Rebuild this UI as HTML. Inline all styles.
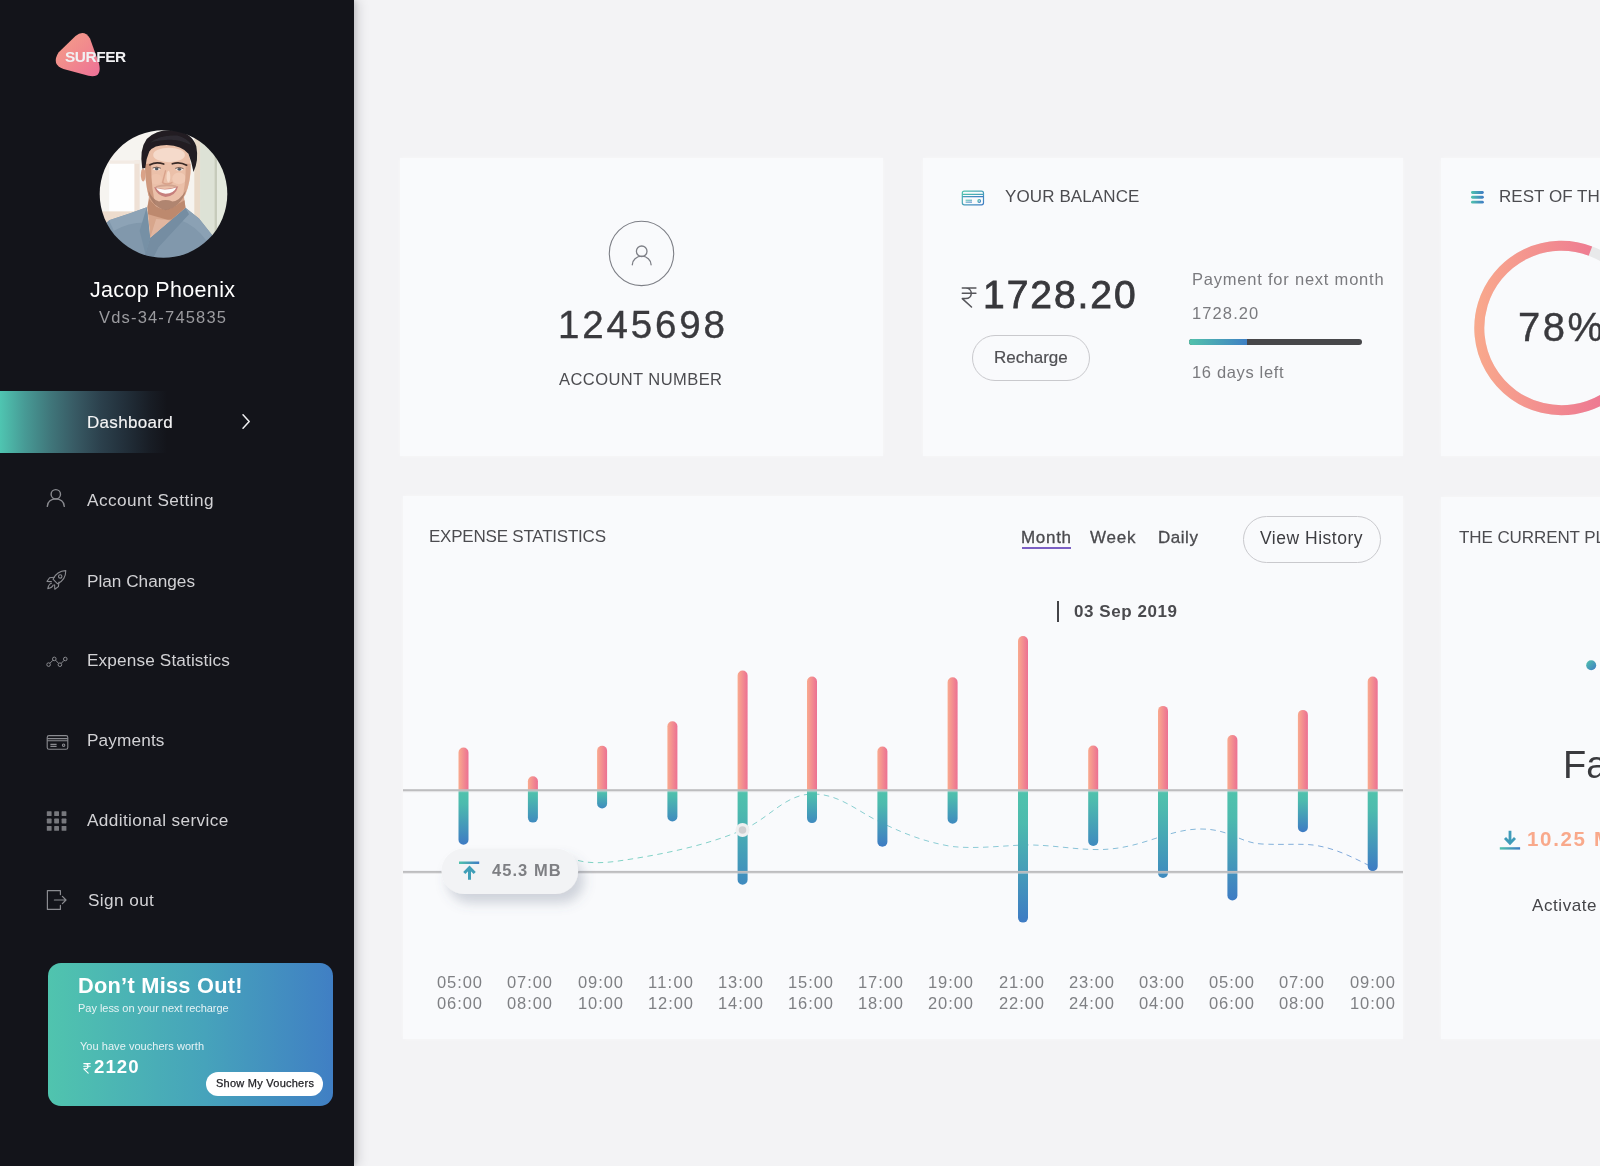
<!DOCTYPE html><html><head><meta charset="utf-8"><title>Surfer Dashboard</title><style>
*{box-sizing:border-box}
html,body{margin:0;padding:0}
body{width:1600px;height:1166px;overflow:hidden;background:#f3f3f5;font-family:"Liberation Sans", sans-serif;position:relative}
.t{position:absolute;white-space:pre;line-height:1;margin:0;will-change:transform}
.abs{position:absolute}
.sidebar{position:absolute;left:0;top:0;width:354px;height:1166px;background:#13141a;box-shadow:5px 0 10px rgba(20,24,30,.13), 2px 0 4px rgba(20,24,30,.10)}
.active{position:absolute;left:0;top:391px;width:167px;height:62px;background:linear-gradient(90deg,#4fc5b1 0px,#479a95 25px,#40777b 50px,#385a64 75px,#2c414d 100px,#222f3a 125px,#181d25 150px,#13141a 167px)}
.promo{position:absolute;left:48px;top:963px;width:285px;height:142.5px;border-radius:13px;background:linear-gradient(90deg,#50c4ae 0%,#46a3bb 55%,#407fc4 100%)}
.pbtn{position:absolute;left:206px;top:1072px;width:117px;height:23.5px;border-radius:12px;background:#fff}
.card{position:absolute;background:#f9fafc;box-shadow:0 0 4px rgba(255,255,255,.4)}
.pill{position:absolute;border:1px solid #c9c9cd;border-radius:24px;background:#f9fafc}
</style></head><body>
<div class="card" style="left:400px;top:158px;width:483px;height:298px"></div>
<div class="card" style="left:923px;top:158px;width:480px;height:298px"></div>
<div class="card" style="left:1441px;top:158px;width:200px;height:298px"></div>
<div class="card" style="left:403px;top:496px;width:1000px;height:543px"></div>
<div class="card" style="left:1441px;top:497px;width:200px;height:542px"></div>
<div class="pill" style="left:972px;top:334.5px;width:118px;height:46px"></div>
<div class="pill" style="left:1242.5px;top:516px;width:138px;height:46.5px"></div>
<div class="abs" style="left:1188.7px;top:339px;width:173.6px;height:6px;border-radius:3px;background:#47474a"></div>
<div class="abs" style="left:1188.7px;top:339px;width:58.5px;height:6px;border-radius:3px 0 0 3px;background:linear-gradient(90deg,#52c2ab,#3f80c4)"></div>
<div class="abs" style="left:1021.5px;top:546.8px;width:49px;height:2px;background:#7b5fc4"></div>
<div class="abs" style="left:1056.5px;top:601px;width:2.5px;height:21px;background:#444448"></div>
<svg class="abs" style="left:0;top:0" width="1600" height="1166" viewBox="0 0 1600 1166">
<defs>
<linearGradient id="gp" x1="0" y1="0" x2="1" y2="0"><stop offset="0" stop-color="#f9aa8e"/><stop offset="1" stop-color="#ec7092"/></linearGradient>
<linearGradient id="gb" x1="0" y1="0" x2="0" y2="1"><stop offset="0" stop-color="#50c3ac"/><stop offset="0.25" stop-color="#4dbbae"/><stop offset="1" stop-color="#3e7bc4"/></linearGradient>
<linearGradient id="gb2" x1="0" y1="0" x2="0" y2="1"><stop offset="0" stop-color="#50c3ac"/><stop offset="0.2" stop-color="#4dbbae"/><stop offset="1" stop-color="#3f8abf"/></linearGradient>
<linearGradient id="gh" x1="0" y1="0" x2="1" y2="0"><stop offset="0" stop-color="#50c3ac"/><stop offset="1" stop-color="#3e7bc4"/></linearGradient>
<linearGradient id="gd" x1="0" y1="0" x2="1" y2="1"><stop offset="0" stop-color="#50c3ac"/><stop offset="1" stop-color="#3e7bc4"/></linearGradient>
<linearGradient id="gcurve" gradientUnits="userSpaceOnUse" x1="578" y1="0" x2="1372" y2="0"><stop offset="0" stop-color="#7fd3c3"/><stop offset="0.5" stop-color="#8ccbd6"/><stop offset="1" stop-color="#7fa6db"/></linearGradient>
<linearGradient id="gring" gradientUnits="userSpaceOnUse" x1="1473" y1="0" x2="1650" y2="0"><stop offset="0" stop-color="#f9aa8c"/><stop offset="0.7" stop-color="#ee7a92"/><stop offset="1" stop-color="#ec6f93"/></linearGradient>
<filter id="tsh" x="-30%" y="-50%" width="170%" height="250%"><feDropShadow dx="6" dy="9" stdDeviation="6" flood-color="#56607c" flood-opacity="0.26"/></filter>
</defs>
<circle cx="641.5" cy="253.4" r="32.2" fill="none" stroke="#7d7f86" stroke-width="1.1"/>
<g fill="none" stroke="#7d7f86" stroke-width="1.3" stroke-linecap="round"><circle cx="641.7" cy="251.3" r="5.3"/><path d="M632.3 264.8 a9.4 8.6 0 0 1 18.8 0"/></g>
<g fill="none" stroke="url(#gd)" stroke-width="1.2"><rect x="962.3" y="191.2" width="21.2" height="13.6" rx="2"/><path d="M962.3 194.3h21.2M962.3 196.6h21.2"/><path d="M965.6 200.2h6.4M965.6 202.1h6.4" stroke-width="1"/><circle cx="979.2" cy="201" r="1.3"/></g>
<g fill="none" stroke="#55555a" stroke-width="1.5" stroke-linecap="round" stroke-linejoin="round"><path d="M962.3 288h13.6M962.3 293.3h13.6M965.6 288c7.6 0 7.6 10.6 0 10.6h-3.3l9.2 8.4"/></g>
<g fill="url(#gh)"><rect x="1471" y="191" width="12.8" height="2.9" rx="1.45"/><rect x="1471" y="195.8" width="12.8" height="2.9" rx="1.45"/><rect x="1471" y="200.7" width="12.8" height="2.9" rx="1.45"/></g>
<circle cx="1561.5" cy="328" r="82.2" fill="none" stroke="#e8e9ea" stroke-width="10"/>
<path d="M1590.42 251.06 A82.2 82.2 0 1 0 1642.50 341.99" fill="none" stroke="url(#gring)" stroke-width="10"/>
<path d="M578 860.5 C590 863.5 602 863 615 861.5 C660 855 705 846 742.5 830 C770 818 785 794 813 794 C840 794 858 812 882 823 C905 834 925 842 952 846.5 C975 849 1000 846 1023 845 C1050 844.5 1070 849 1093 849.5 C1140 851 1165 829 1201 829 C1230 829 1240 843 1262 844 C1285 845 1300 843.5 1313 845 C1335 848 1352 857 1370 866" fill="none" stroke="url(#gcurve)" stroke-width="1" stroke-dasharray="5.5 4.5"/>
<path d="M458.5 790.2 V752.6 a5 5 0 0 1 10 0 V790.2 Z" fill="url(#gp)"/>
<path d="M458.5 790.2 V839.7 a5 5 0 0 0 10 0 V790.2 Z" fill="url(#gb)"/>
<path d="M527.9 790.2 V781.3 a5 5 0 0 1 10 0 V790.2 Z" fill="url(#gp)"/>
<path d="M527.9 790.2 V817.6 a5 5 0 0 0 10 0 V790.2 Z" fill="url(#gb2)"/>
<path d="M597.1 790.2 V750.8 a5 5 0 0 1 10 0 V790.2 Z" fill="url(#gp)"/>
<path d="M597.1 790.2 V803.5 a5 5 0 0 0 10 0 V790.2 Z" fill="url(#gb2)"/>
<path d="M667.4 790.2 V726.3 a5 5 0 0 1 10 0 V790.2 Z" fill="url(#gp)"/>
<path d="M667.4 790.2 V816.5 a5 5 0 0 0 10 0 V790.2 Z" fill="url(#gb2)"/>
<path d="M737.6 790.2 V675.5 a5 5 0 0 1 10 0 V790.2 Z" fill="url(#gp)"/>
<path d="M737.6 790.2 V879.8 a5 5 0 0 0 10 0 V790.2 Z" fill="url(#gb2)"/>
<path d="M807.0 790.2 V681.6 a5 5 0 0 1 10 0 V790.2 Z" fill="url(#gp)"/>
<path d="M807.0 790.2 V818.1 a5 5 0 0 0 10 0 V790.2 Z" fill="url(#gb2)"/>
<path d="M877.4 790.2 V751.6 a5 5 0 0 1 10 0 V790.2 Z" fill="url(#gp)"/>
<path d="M877.4 790.2 V841.8 a5 5 0 0 0 10 0 V790.2 Z" fill="url(#gb)"/>
<path d="M947.6 790.2 V682.2 a5 5 0 0 1 10 0 V790.2 Z" fill="url(#gp)"/>
<path d="M947.6 790.2 V818.7 a5 5 0 0 0 10 0 V790.2 Z" fill="url(#gb2)"/>
<path d="M1018.0 790.2 V641.0 a5 5 0 0 1 10 0 V790.2 Z" fill="url(#gp)"/>
<path d="M1018.0 790.2 V917.6 a5 5 0 0 0 10 0 V790.2 Z" fill="url(#gb)"/>
<path d="M1088.2 790.2 V750.5 a5 5 0 0 1 10 0 V790.2 Z" fill="url(#gp)"/>
<path d="M1088.2 790.2 V841.0 a5 5 0 0 0 10 0 V790.2 Z" fill="url(#gb2)"/>
<path d="M1158.0 790.2 V710.9 a5 5 0 0 1 10 0 V790.2 Z" fill="url(#gp)"/>
<path d="M1158.0 790.2 V872.9 a5 5 0 0 0 10 0 V790.2 Z" fill="url(#gb2)"/>
<path d="M1227.4 790.2 V740.1 a5 5 0 0 1 10 0 V790.2 Z" fill="url(#gp)"/>
<path d="M1227.4 790.2 V895.5 a5 5 0 0 0 10 0 V790.2 Z" fill="url(#gb)"/>
<path d="M1297.9 790.2 V714.9 a5 5 0 0 1 10 0 V790.2 Z" fill="url(#gp)"/>
<path d="M1297.9 790.2 V827.2 a5 5 0 0 0 10 0 V790.2 Z" fill="url(#gb)"/>
<path d="M1367.7 790.2 V681.6 a5 5 0 0 1 10 0 V790.2 Z" fill="url(#gp)"/>
<path d="M1367.7 790.2 V866.3 a5 5 0 0 0 10 0 V790.2 Z" fill="url(#gb)"/>
<rect x="403" y="789.2" width="1000" height="2" fill="#bdbdbf"/><rect x="403" y="791.2" width="1000" height="1" fill="#d9d9db" opacity=".55"/>
<rect x="403" y="870.9" width="1000" height="2" fill="#bdbdbf"/><rect x="403" y="872.9" width="1000" height="1" fill="#d9d9db" opacity=".55"/>
<circle cx="742.5" cy="830" r="7" fill="#efeff0"/><circle cx="742.5" cy="830" r="3.8" fill="#cfcfd1"/>
<rect x="441.5" y="848.6" width="136.6" height="45.3" rx="22.6" fill="#f2f3f5" filter="url(#tsh)"/>
<rect x="459" y="861.5" width="20.2" height="2.5" fill="url(#gh)"/><g fill="none" stroke="#409fb8" stroke-width="3"><path d="M469.5 879.8V867.5M464.3 873l5.2-5.4 5.2 5.4" stroke-linejoin="miter"/></g>
<circle cx="1591.2" cy="665.3" r="5" fill="url(#gd)"/>
<rect x="1499.8" y="847.2" width="20.3" height="2.4" fill="url(#gh)"/><g fill="none" stroke="#3f9bb9" stroke-width="2.8"><path d="M1510 830.8v12.2M1505 838l5 5.2 5-5.2"/></g>
</svg>
<div class="t" style="left:558.40px;top:305.55px;font-size:38.5px;color:#3a3a3e;letter-spacing:2.852px;-webkit-text-stroke:0.4px #3a3a3e;">1245698</div>
<div class="t" style="left:559.20px;top:370.65px;font-size:16.5px;color:#4c4c50;letter-spacing:0.433px;">ACCOUNT NUMBER</div>
<div class="t" style="left:1005.00px;top:188.30px;font-size:17px;color:#4c4c50;letter-spacing:0.109px;">YOUR BALANCE</div>
<div class="t" style="left:982.80px;top:275.00px;font-size:39px;color:#38383c;letter-spacing:1.936px;-webkit-text-stroke:0.8px #38383c;">1728.20</div>
<div class="t" style="left:994.40px;top:348.90px;font-size:17px;color:#505054;letter-spacing:0.012px;-webkit-text-stroke:0.2px #505054;">Recharge</div>
<div class="t" style="left:1191.60px;top:271.15px;font-size:16.5px;color:#7a7a7e;letter-spacing:0.782px;">Payment for next month</div>
<div class="t" style="left:1191.80px;top:304.85px;font-size:16.5px;color:#7a7a7e;letter-spacing:1.107px;">1728.20</div>
<div class="t" style="left:1191.80px;top:364.35px;font-size:16.5px;color:#7a7a7e;letter-spacing:0.655px;">16 days left</div>
<div class="t" style="left:1499.40px;top:188.30px;font-size:17px;color:#4c4c50;letter-spacing:0.039px;">REST OF THE TRAFFIC</div>
<div class="t" style="left:1518.20px;top:307.20px;font-size:40px;color:#3a3a3e;letter-spacing:2.500px;-webkit-text-stroke:0.4px #3a3a3e;">78%</div>
<div class="t" style="left:428.50px;top:528.30px;font-size:17px;color:#4c4c50;letter-spacing:-0.221px;">EXPENSE STATISTICS</div>
<div class="t" style="left:1021.30px;top:529.20px;font-size:17px;color:#4a4a4e;letter-spacing:0.688px;-webkit-text-stroke:0.3px #4a4a4e;">Month</div>
<div class="t" style="left:1089.50px;top:529.20px;font-size:17px;color:#4a4a4e;letter-spacing:0.748px;-webkit-text-stroke:0.3px #4a4a4e;">Week</div>
<div class="t" style="left:1158.20px;top:529.20px;font-size:17px;color:#4a4a4e;letter-spacing:0.526px;-webkit-text-stroke:0.3px #4a4a4e;">Daily</div>
<div class="t" style="left:1259.70px;top:530.45px;font-size:17.5px;color:#3d3d41;letter-spacing:0.515px;">View History</div>
<div class="t" style="left:1074.30px;top:602.90px;font-size:17px;color:#4a4a4e;font-weight:700;letter-spacing:0.564px;">03 Sep 2019</div>
<div class="t" style="left:492.30px;top:861.75px;font-size:16.5px;color:#7e7f83;font-weight:700;letter-spacing:1.040px;">45.3 MB</div>
<div class="t" style="left:1458.60px;top:529.30px;font-size:17px;color:#4c4c50;letter-spacing:-0.084px;">THE CURRENT PLAN</div>
<div class="t" style="left:1563.00px;top:745.80px;font-size:38px;color:#3a3a3e;">Fast</div>
<div class="t" style="left:1527.40px;top:828.95px;font-size:20.5px;color:#f9a98b;font-weight:700;letter-spacing:1.672px;">10.25 MB/s</div>
<div class="t" style="left:1531.90px;top:896.90px;font-size:17px;color:#444448;letter-spacing:0.574px;">Activate now</div>
<div class="t" style="left:437.20px;top:974.15px;font-size:16.5px;color:#7f8084;letter-spacing:0.926px;">05:00</div>
<div class="t" style="left:437.20px;top:995.15px;font-size:16.5px;color:#7f8084;letter-spacing:0.926px;">06:00</div>
<div class="t" style="left:507.38px;top:974.15px;font-size:16.5px;color:#7f8084;letter-spacing:0.926px;">07:00</div>
<div class="t" style="left:507.38px;top:995.15px;font-size:16.5px;color:#7f8084;letter-spacing:0.926px;">08:00</div>
<div class="t" style="left:577.56px;top:974.15px;font-size:16.5px;color:#7f8084;letter-spacing:0.926px;">09:00</div>
<div class="t" style="left:577.56px;top:995.15px;font-size:16.5px;color:#7f8084;letter-spacing:0.926px;">10:00</div>
<div class="t" style="left:647.74px;top:974.15px;font-size:16.5px;color:#7f8084;letter-spacing:1.230px;">11:00</div>
<div class="t" style="left:647.74px;top:995.15px;font-size:16.5px;color:#7f8084;letter-spacing:0.926px;">12:00</div>
<div class="t" style="left:717.92px;top:974.15px;font-size:16.5px;color:#7f8084;letter-spacing:0.926px;">13:00</div>
<div class="t" style="left:717.92px;top:995.15px;font-size:16.5px;color:#7f8084;letter-spacing:0.926px;">14:00</div>
<div class="t" style="left:788.10px;top:974.15px;font-size:16.5px;color:#7f8084;letter-spacing:0.926px;">15:00</div>
<div class="t" style="left:788.10px;top:995.15px;font-size:16.5px;color:#7f8084;letter-spacing:0.926px;">16:00</div>
<div class="t" style="left:858.28px;top:974.15px;font-size:16.5px;color:#7f8084;letter-spacing:0.926px;">17:00</div>
<div class="t" style="left:858.28px;top:995.15px;font-size:16.5px;color:#7f8084;letter-spacing:0.926px;">18:00</div>
<div class="t" style="left:928.46px;top:974.15px;font-size:16.5px;color:#7f8084;letter-spacing:0.926px;">19:00</div>
<div class="t" style="left:928.46px;top:995.15px;font-size:16.5px;color:#7f8084;letter-spacing:0.926px;">20:00</div>
<div class="t" style="left:998.64px;top:974.15px;font-size:16.5px;color:#7f8084;letter-spacing:0.926px;">21:00</div>
<div class="t" style="left:998.64px;top:995.15px;font-size:16.5px;color:#7f8084;letter-spacing:0.926px;">22:00</div>
<div class="t" style="left:1068.82px;top:974.15px;font-size:16.5px;color:#7f8084;letter-spacing:0.926px;">23:00</div>
<div class="t" style="left:1068.82px;top:995.15px;font-size:16.5px;color:#7f8084;letter-spacing:0.926px;">24:00</div>
<div class="t" style="left:1139.00px;top:974.15px;font-size:16.5px;color:#7f8084;letter-spacing:0.926px;">03:00</div>
<div class="t" style="left:1139.00px;top:995.15px;font-size:16.5px;color:#7f8084;letter-spacing:0.926px;">04:00</div>
<div class="t" style="left:1209.18px;top:974.15px;font-size:16.5px;color:#7f8084;letter-spacing:0.926px;">05:00</div>
<div class="t" style="left:1209.18px;top:995.15px;font-size:16.5px;color:#7f8084;letter-spacing:0.926px;">06:00</div>
<div class="t" style="left:1279.36px;top:974.15px;font-size:16.5px;color:#7f8084;letter-spacing:0.926px;">07:00</div>
<div class="t" style="left:1279.36px;top:995.15px;font-size:16.5px;color:#7f8084;letter-spacing:0.926px;">08:00</div>
<div class="t" style="left:1349.54px;top:974.15px;font-size:16.5px;color:#7f8084;letter-spacing:0.926px;">09:00</div>
<div class="t" style="left:1349.54px;top:995.15px;font-size:16.5px;color:#7f8084;letter-spacing:0.926px;">10:00</div>
<div class="sidebar">
<div class="active"></div>
<div class="promo"></div><div class="pbtn"></div>
<svg class="abs" style="left:0;top:0" width="354" height="1166" viewBox="0 0 354 1166">
<defs>
<linearGradient id="glogo" x1="0" y1="0" x2="1" y2="1"><stop offset="0" stop-color="#f5a089"/><stop offset="0.5" stop-color="#f18a8d"/><stop offset="1" stop-color="#ed7098"/></linearGradient>
<clipPath id="avc"><circle cx="163.5" cy="194" r="63.8"/></clipPath>
<filter id="avb" x="-5%" y="-5%" width="110%" height="110%"><feGaussianBlur stdDeviation="0.55"/></filter>
</defs>
<path d="M58.5 52.5 L75.5 36 Q84 29 90 38.5 L99 63.5 Q102.5 78.5 88.5 75.8 L63.5 69 Q51 64.5 58.5 52.5 Z" fill="url(#glogo)"/>
<g clip-path="url(#avc)"><g filter="url(#avb)"><g transform="translate(95 125) scale(0.11751)">
<rect x="-20" y="-20" width="1206" height="1206" fill="#f6f4f0"/>
<rect x="120" y="300" width="230" height="440" fill="#fefefe"/>
<rect x="335" y="300" width="45" height="440" fill="#efe1d6"/>
<rect x="120" y="300" width="260" height="30" fill="#f3ebe4"/>
<rect x="40" y="735" width="420" height="110" fill="#eddccd"/>
<rect x="845" y="-20" width="55" height="1206" fill="#e9dac9"/>
<rect x="895" y="-20" width="130" height="1206" fill="#dde2d6"/>
<rect x="1018" y="-20" width="22" height="1206" fill="#c6cbbb"/>
<rect x="1040" y="-20" width="146" height="1206" fill="#e4e9dd"/>
<path d="M40 880 L120 810 L300 752 L440 700 L470 960 L770 705 L885 795 L1000 940 L1100 1186 L40 1186 Z" fill="#8198ac"/>
<path d="M120 810 L300 752 L440 700 L455 830 Q300 820 160 900 Z" fill="#8da3b6"/>
<path d="M770 705 L885 795 L1000 940 L960 1000 Q860 850 700 800 Z" fill="#8ba1b4"/>
<path d="M470 960 L770 705 L800 760 L540 1040 L470 1186 L400 1186 Z" fill="#748da2"/>
<path d="M440 700 L470 960 L430 1100 L380 900 Z" fill="#7690a5"/>
<path d="M462 590 L446 700 L470 960 L770 705 L750 560 Z" fill="#d7a68c"/>
<path d="M462 630 Q560 770 762 640 L770 705 L640 815 Q560 790 452 760 L446 700 Z" fill="#b98468" opacity=".85"/><path d="M520 800 Q600 810 650 805 L470 960 Z" fill="#e6bda8" opacity=".7"/>
<ellipse cx="410" cy="425" rx="20" ry="55" fill="#d9a288"/>
<path d="M425 330 Q420 230 480 180 Q600 140 740 175 Q815 230 815 360 Q815 480 770 590 Q700 715 600 722 Q500 712 455 600 Q425 480 425 330 Z" fill="#ebc0a9"/>
<ellipse cx="630" cy="255" rx="135" ry="62" fill="#f6ddce" opacity=".9"/>
<ellipse cx="715" cy="455" rx="58" ry="50" fill="#f3cdb9" opacity=".8"/>
<ellipse cx="520" cy="460" rx="50" ry="45" fill="#efc4ae" opacity=".8"/>
<path d="M425 330 Q425 480 455 600 Q480 660 520 690 Q478 560 478 330 Z" fill="#c99277" opacity=".85"/><path d="M815 330 Q815 480 770 590 Q755 620 735 645 Q775 520 772 330 Z" fill="#d29c83" opacity=".7"/>
<path d="M455 555 Q470 690 600 725 Q730 700 775 555 Q715 650 660 650 Q600 625 545 650 Q490 640 455 555 Z" fill="#a67a66" opacity=".85"/>
<path d="M520 520 Q600 490 690 515 L700 530 Q600 510 510 535 Z" fill="#c79a87" opacity=".7"/>
<path d="M402 370 Q375 210 440 120 Q530 30 690 46 Q825 68 862 180 Q885 300 838 400 Q822 310 795 245 Q740 175 610 170 Q500 170 462 225 Q432 290 428 365 Z" fill="#211e21"/>
<path d="M470 150 Q560 80 700 90 Q780 110 820 170 Q720 120 620 125 Q530 130 470 150 Z" fill="#34323a" opacity=".7"/>
<path d="M468 338 Q520 310 585 332" stroke="#3b2b27" stroke-width="15" fill="none" stroke-linecap="round"/>
<path d="M658 330 Q720 308 780 342" stroke="#3b2b27" stroke-width="15" fill="none" stroke-linecap="round"/>
<ellipse cx="525" cy="374" rx="32" ry="12" fill="#ffffff" opacity=".7"/><ellipse cx="718" cy="377" rx="32" ry="12" fill="#ffffff" opacity=".7"/>
<ellipse cx="525" cy="374" rx="15" ry="12" fill="#4b5560"/><ellipse cx="718" cy="377" rx="15" ry="12" fill="#4b5560"/>
<path d="M490 366 Q525 350 560 368" stroke="#3a2d2b" stroke-width="6" fill="none"/><path d="M683 369 Q718 352 753 371" stroke="#3a2d2b" stroke-width="6" fill="none"/>
<path d="M600 390 Q580 470 575 490 Q610 515 655 490" stroke="#d9a28b" stroke-width="12" fill="none" stroke-linecap="round"/>
<ellipse cx="625" cy="440" rx="16" ry="50" fill="#f9e0d1" opacity=".8"/>
<path d="M503 528 Q600 562 708 522 Q685 608 600 612 Q528 602 503 528 Z" fill="#c67f7c"/>
<path d="M520 536 Q600 562 692 531 Q672 580 600 584 Q543 580 520 536 Z" fill="#fdfcfa"/>
</g></g></g>
<path d="M243 414.8l6.2 6.7-6.2 6.7" fill="none" stroke="#f0f0f2" stroke-width="1.5" stroke-linecap="round" stroke-linejoin="round"/>
<g fill="none" stroke="#8a8b90" stroke-width="1.4" stroke-linecap="round"><circle cx="55.8" cy="494.3" r="4.7"/><path d="M47.3 506.4c0-10 17-10 17 0"/></g>
<g fill="none" stroke="#8a8b90" stroke-width="1.1" stroke-linejoin="round" stroke-linecap="round"><path d="M65.8 570.6c-6.2 0.2-10.4 3.4-12.8 8.6l4.6 4.6c5.2-2.4 8.2-6.8 8.2-13.2z"/><circle cx="60.2" cy="576.4" r="1.7"/><path d="M54.2 577.2l-4.6 0.6-2.6 3.6 4.4 0.2M59 582l-0.6 4.6-3.6 2.6-0.2-4.4"/><path d="M51.4 583.2c-2 0.6-3 2.4-3.6 5.4 3-0.6 4.8-1.6 5.4-3.6"/></g>
<g fill="none" stroke="#8a8b90" stroke-width="1"><circle cx="48.6" cy="664.6" r="1.8"/><circle cx="54.3" cy="658.9" r="1.8"/><circle cx="59.9" cy="664.7" r="1.8"/><circle cx="65.3" cy="659" r="1.8"/><path d="M49.9 663.3l3.1-3.1M55.6 660.2l3 3.2M61.2 663.4l2.8-3"/></g>
<g fill="none" stroke="#8a8b90" stroke-width="1.1"><rect x="47.2" y="735.6" width="20.6" height="13.6" rx="1.8"/><path d="M47.2 738.6h20.6M47.2 740.8h20.6M50.4 744.4h6.2M50.4 746.4h6.2"/><circle cx="63.6" cy="745.2" r="1.2"/></g>
<g fill="#77787d"><rect x="46.8" y="811.2" width="4.8" height="4.8" rx="0.6"/><rect x="54.2" y="811.2" width="4.8" height="4.8" rx="0.6"/><rect x="61.6" y="811.2" width="4.8" height="4.8" rx="0.6"/><rect x="46.8" y="818.6" width="4.8" height="4.8" rx="0.6"/><rect x="54.2" y="818.6" width="4.8" height="4.8" rx="0.6"/><rect x="61.6" y="818.6" width="4.8" height="4.8" rx="0.6"/><rect x="46.8" y="826.0" width="4.8" height="4.8" rx="0.6"/><rect x="54.2" y="826.0" width="4.8" height="4.8" rx="0.6"/><rect x="61.6" y="826.0" width="4.8" height="4.8" rx="0.6"/></g>
<g fill="none" stroke="#8a8b90" stroke-width="1.2" stroke-linecap="round" stroke-linejoin="round"><path d="M60.4 894.6v-4h-13v18.8h13v-4"/><path d="M54.4 900h11.4M62.4 896.4l3.6 3.6-3.6 3.6"/></g>
<g fill="none" stroke="#fff" stroke-width="1.1" stroke-linecap="round" stroke-linejoin="round"><path d="M83.8 1063.6h6.4M83.8 1066.2h6.4M85.2 1063.6c3.8 0 3.8 5.2 0 5.2h-1.4l4.4 4.4"/></g>
</svg>
<div class="t" style="left:64.80px;top:49.40px;font-size:15.4px;color:#f1f1f3;font-weight:700;letter-spacing:-0.416px;">SURFER</div>
<div class="t" style="left:89.80px;top:279.55px;font-size:21.5px;color:#ffffff;letter-spacing:0.329px;">Jacop Phoenix</div>
<div class="t" style="left:98.80px;top:308.55px;font-size:16.5px;color:#9b9b9f;letter-spacing:1.180px;">Vds-34-745835</div>
<div class="t" style="left:87.20px;top:414.00px;font-size:17px;color:#f4f4f5;letter-spacing:0.316px;-webkit-text-stroke:0.15px #f4f4f5;">Dashboard</div>
<div class="t" style="left:86.90px;top:492.00px;font-size:17.2px;color:#d2d2d5;letter-spacing:0.444px;">Account Setting</div>
<div class="t" style="left:87.20px;top:572.60px;font-size:17.2px;color:#d2d2d5;">Plan Changes</div>
<div class="t" style="left:87.40px;top:651.80px;font-size:17.2px;color:#d2d2d5;letter-spacing:0.139px;">Expense Statistics</div>
<div class="t" style="left:87.20px;top:731.80px;font-size:17.2px;color:#d2d2d5;letter-spacing:0.140px;">Payments</div>
<div class="t" style="left:87.00px;top:811.80px;font-size:17.2px;color:#d2d2d5;letter-spacing:0.387px;">Additional service</div>
<div class="t" style="left:87.90px;top:891.50px;font-size:17.2px;color:#d2d2d5;letter-spacing:0.403px;">Sign out</div>
<div class="t" style="left:78.00px;top:975.20px;font-size:21.8px;color:#ffffff;font-weight:700;letter-spacing:0.247px;">Don’t Miss Out!</div>
<div class="t" style="left:78.30px;top:1002.90px;font-size:11px;color:#e6f3f5;letter-spacing:-0.032px;">Pay less on your next recharge</div>
<div class="t" style="left:80.20px;top:1040.90px;font-size:11px;color:#e6f3f5;letter-spacing:0.040px;">You have vouchers worth</div>
<div class="t" style="left:94.00px;top:1057.50px;font-size:18.6px;color:#ffffff;font-weight:700;letter-spacing:1.075px;">2120</div>
<div class="t" style="left:215.70px;top:1077.80px;font-size:11px;color:#222226;letter-spacing:0.250px;-webkit-text-stroke:0.25px #222226;">Show My Vouchers</div>
</div>
</body></html>
